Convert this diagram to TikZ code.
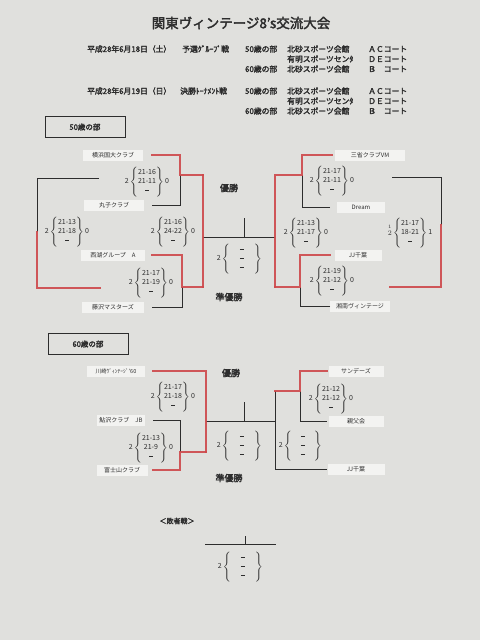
\documentclass[tikz,border=0pt]{standalone}
\usepackage{fontspec}
\setmainfont{Noto Sans CJK JP}[AutoFakeBold=2.5]
\usetikzlibrary{calc}
\definecolor{bg}{RGB}{224,224,221}
\definecolor{lab}{RGB}{243,243,241}
\definecolor{mkred}{RGB}{206,72,74}
\definecolor{ink}{RGB}{45,45,45}
\newcommand{\dsh}{\rule[2.2pt]{4pt}{0.7pt}}
\newcommand{\scorebox}[4]{#1\,$\left\{\begin{array}{@{}c@{}}\mbox{#2}\\\mbox{#3}\\\mbox{\dsh}\end{array}\right\}$\,#4}
\tikzset{
  ln/.style={draw=ink, line width=0.8pt, line join=miter},
  rd/.style={draw=mkred, line width=2.4pt, line join=miter, line cap=rect, opacity=.9},
  team/.style={fill=lab, font=\fontsize{6}{7}\selectfont, text=ink, minimum height=11pt, inner sep=1pt},
  scr/.style={font=\fontsize{7}{9}\selectfont, text=ink, inner sep=0pt},
  hd/.style={font=\fontsize{7.8}{9}\selectfont\bfseries, anchor=west, text=ink, inner sep=0pt},
  sec/.style={draw=ink, line width=0.8pt, font=\fontsize{7.5}{9}\selectfont\bfseries, text=ink, minimum width=80pt, minimum height=21pt},
  win/.style={font=\fontsize{9}{10}\selectfont\bfseries, text=ink}
}
\begin{document}
\begin{tikzpicture}[x=1pt,y=-1pt]
\fill[bg] (0,0) rectangle (480,640);
\useasboundingbox (0,0) rectangle (480,640);

% ---------- header ----------
\node[font=\fontsize{13.5}{15}\selectfont\bfseries, text=ink] (title) at (241,23) {関東ヴィンテージ8’s交流大会};
\node[hd] (d1) at (87,49) {平成28年6月18日（土）};
\node[hd] (g1) at (182,49) {予選ｸﾞﾙｰﾌﾟ戦};
\node[hd] (a1) at (245,49) {50歳の部};
\node[hd] (v1) at (287,49) {北砂スポーツ会館};
\node[hd] (c1) at (368,49) {ＡＣコート};
\node[hd] (v2) at (287,59) {有明スポーツセンﾀ};
\node[hd] (c2) at (368,59) {ＤＥコート};
\node[hd] (a3) at (245,69) {60歳の部};
\node[hd] (v3) at (287,69) {北砂スポーツ会館};
\node[hd] (c3) at (368,69) {Ｂ　コート};
\node[hd] (d4) at (87,91) {平成28年6月19日（日）};
\node[hd] (g4) at (180,91) {決勝ﾄｰﾅﾒﾝﾄ戦};
\node[hd] (a4) at (245,91) {50歳の部};
\node[hd] (v4) at (287,91) {北砂スポーツ会館};
\node[hd] (c4) at (368,91) {ＡＣコート};
\node[hd] (v5) at (287,101) {有明スポーツセンﾀ};
\node[hd] (c5) at (368,101) {ＤＥコート};
\node[hd] (a6) at (245,111) {60歳の部};
\node[hd] (v6) at (287,111) {北砂スポーツ会館};
\node[hd] (c6) at (368,111) {Ｂ　コート};

% ---------- 50 section ----------
\node[sec] (sec50) at (85,127) {50歳の部};
\node[team, minimum width=60pt] (yk) at (113,155) {横浜国大クラブ};
\node[team, minimum width=60pt] (mr) at (114,205) {丸子クラブ};
\node[team, minimum width=64pt] (sk) at (113,255) {西湖グループ　A};
\node[team, minimum width=62pt] (fs) at (113,307) {藤沢マスターズ};
\node[team, minimum width=70pt] (ss) at (370,155) {三省クラブVM};
\node[team, minimum width=48pt] (dr) at (361,207) {Dream};
\node[team, minimum width=47pt] (jja) at (358,255) {JJ千葉};
\node[team, minimum width=60pt] (sn) at (360,306) {湘南ヴィンテージ};

\coordinate (qa) at (180,175);
\coordinate (qb) at (182,287);
\coordinate (sa) at (203,237);
\coordinate (fa) at (244,237);
\coordinate (sb) at (275,237);
\coordinate (qc) at (302,175);
\coordinate (qd) at (300,287);
\coordinate (ola) at (99,178);
\coordinate (olb) at (37,178);
\coordinate (olc) at (37,232);
\coordinate (old) at (37,288);
\coordinate (ole) at (100,288);
\coordinate (ora) at (392,177);
\coordinate (orb) at (441,177);
\coordinate (orc) at (441,225);
\coordinate (ord) at (441,287);
\coordinate (ore) at (390,287);

\draw[ln] (152,0 |- mr) -| (qa);
\draw[ln] (152,0 |- fs) -| (qb);
\draw[ln] (sa) -- (sb);
\draw[ln] (fa) -- ++(0,-19);
\draw[ln] (330,0 |- dr) -| (qc);
\draw[ln] (330,0 |- sn) -| (qd);
\draw[ln] (ola) -- (olb) -- (olc);
\draw[ln] (ora) -- (orb) -- (orc);

\draw[rd] (152,0 |- yk) -| (qa) -- (qa -| sa);
\draw[rd] (qa -| sa) -- (qb -| sa);
\draw[rd] (152,0 |- sk) -| (qb) -- (qb -| sa);
\draw[rd] (332,0 |- ss) -| (qc) -- (qc -| sb) -- (qd -| sb);
\draw[rd] (330,0 |- jja) -| (qd) -- (qd -| sb);
\draw[rd] (olc) -- (old) -- (ole);
\draw[rd] (orc) -- (ord) -- (ore);

\node[scr] (m1) at (147,182) {\scorebox{2}{21-16}{21-11}{0}};
\node[scr] (m2) at (173,232) {\scorebox{2}{21-16}{24-22}{0}};
\node[scr] (m3) at (151,283) {\scorebox{2}{21-17}{21-19}{0}};
\node[scr] (m4) at (67,232) {\scorebox{2}{21-13}{21-18}{0}};
\node[scr] (m5) at (332,181) {\scorebox{2}{21-17}{21-11}{0}};
\node[scr] (m6) at (306,233) {\scorebox{2}{21-13}{21-17}{0}};
\node[scr] (m7) at (332,281) {\scorebox{2}{21-19}{21-12}{0}};
\node[scr] (m8) at (410,233) {\scorebox{$\stackrel{1}{2}$}{21-17}{18-21}{1}};
\node[scr] (m9) at (240,259) {\scorebox{2}{\makebox[24pt]{\dsh}}{\dsh}{}};

\node[win] (w50) at (229,188) {優勝};
\node[win] (r50) at (229,297) {準優勝};

% ---------- 60 section ----------
\node[sec] (sec60) at (88,344) {60歳の部};
\node[team, minimum width=58pt, font=\fontsize{5.5}{6}\selectfont] (kw) at (116,371) {川崎ｳﾞｨﾝﾃｰｼﾞ’60};
\node[team, minimum width=48pt] (ay) at (121,420) {鮎沢クラブ　JB};
\node[team, minimum width=51pt] (fj) at (122,470) {富士山クラブ};
\node[team, minimum width=55pt] (sd) at (356,371) {サンデーズ};
\node[team, minimum width=55pt] (oy) at (356,421) {親父会};
\node[team, minimum width=57pt] (jjb) at (356,469) {JJ千葉};

\coordinate (ra) at (180,452);
\coordinate (ta) at (206,421);
\coordinate (fb) at (244,421);
\coordinate (tb) at (275,421);
\coordinate (rc) at (300,391);

\draw[ln] (153,0 |- ay) -| (ra);
\draw[ln] (ta) -- (tb);
\draw[ln] (fb) -- ++(0,-19);
\draw[ln] (327,0 |- oy) -| (rc);
\draw[ln] (rc -| tb) |- (327,0 |- jjb);

\draw[rd] (153,0 |- kw) -| (ta |- ra);
\draw[rd] (153,0 |- fj) -| (ra) -- (ta |- ra);
\draw[rd] (327,0 |- sd) -| (rc) -- (rc -| tb);

\node[scr] (n1) at (173,397) {\scorebox{2}{21-17}{21-18}{0}};
\node[scr] (n2) at (151,448) {\scorebox{2}{21-13}{21-9}{0}};
\node[scr] (n3) at (331,399) {\scorebox{2}{21-12}{21-12}{0}};
\node[scr] (n4) at (301,446) {\scorebox{2}{\makebox[22pt]{\dsh}}{\dsh}{}};
\node[scr] (n5) at (240,446) {\scorebox{2}{\makebox[24pt]{\dsh}}{\dsh}{}};

\node[win] (w60) at (231,373) {優勝};
\node[win] (r60) at (229,478) {準優勝};

% ---------- losers ----------
\node[font=\fontsize{7}{8}\selectfont\bfseries, text=ink] (lose) at (177,521) {＜敗者戦＞};
\coordinate (la) at (205,544);
\coordinate (lb) at (276,544);
\coordinate (lc) at (245,544);
\draw[ln] (la) -- (lb);
\draw[ln] (lc) -- ++(0,-8);
\node[scr] (n6) at (241,567) {\scorebox{2}{\makebox[24pt]{\dsh}}{\dsh}{}};
\end{tikzpicture}
\end{document}
